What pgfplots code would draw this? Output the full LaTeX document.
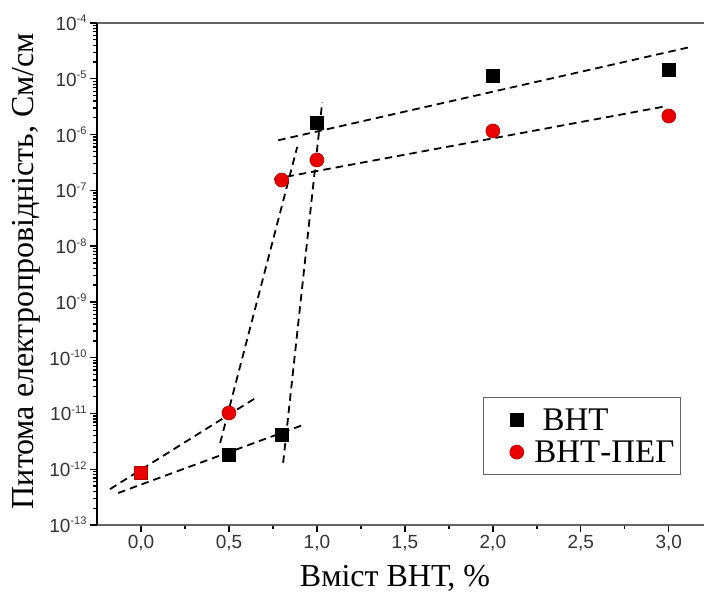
\documentclass[border=0pt]{standalone}
\usepackage{fontspec}
\setmainfont{Liberation Serif}
\setsansfont{Liberation Sans}
\usepackage{pgfplots}
\pgfplotsset{compat=1.18}

\definecolor{ptred}{RGB}{235,0,0}
\definecolor{ptredline}{RGB}{170,0,0}
\definecolor{axgray}{RGB}{100,100,100}

\tikzset{fitline/.style={black, line width=1.8pt, dash pattern=on 7.5pt off 5pt}}

\begin{document}
\begin{tikzpicture}
\begin{axis}[
    scale only axis,
    width=607pt, height=502pt,
    xmin=-0.25, xmax=3.2,
    ymode=log, log basis y=10,
    ymin=1e-13, ymax=1e-4,
    axis x line*=box, axis y line*=left,
    x axis line style={axgray, line width=1.5pt, -},
    y axis line style={black, line width=2pt, -},
    xtick pos=left, ytick pos=left,
    tick align=outside,
    major tick length=7pt, minor tick length=4pt,
    xtick style={black, line width=1.3pt},
    ytick style={black, line width=1.3pt},
    minor tick style={black, line width=1.1pt},
    xtick={0,0.5,1,1.5,2,2.5,3},
    minor x tick num=1,
    ytick={1e-13,1e-12,1e-11,1e-10,1e-9,1e-8,1e-7,1e-6,1e-5,1e-4},
    minor ytick={2e-13,3e-13,4e-13,5e-13,6e-13,7e-13,8e-13,9e-13,
                 2e-12,3e-12,4e-12,5e-12,6e-12,7e-12,8e-12,9e-12,
                 2e-11,3e-11,4e-11,5e-11,6e-11,7e-11,8e-11,9e-11,
                 2e-10,3e-10,4e-10,5e-10,6e-10,7e-10,8e-10,9e-10,
                 2e-9,3e-9,4e-9,5e-9,6e-9,7e-9,8e-9,9e-9,
                 2e-8,3e-8,4e-8,5e-8,6e-8,7e-8,8e-8,9e-8,
                 2e-7,3e-7,4e-7,5e-7,6e-7,7e-7,8e-7,9e-7,
                 2e-6,3e-6,4e-6,5e-6,6e-6,7e-6,8e-6,9e-6,
                 2e-5,3e-5,4e-5,5e-5,6e-5,7e-5,8e-5,9e-5},
    tick label style={font=\sffamily\fontsize{19}{19}\selectfont, black!80},
    xticklabel style={/pgf/number format/.cd, fixed, fixed zerofill, precision=1, use comma, assume math mode=true},
    yticklabel={\pgfmathparse{int(round(\tick))}10\raisebox{0.75ex}{\fontsize{11}{11}\selectfont\pgfmathresult}},
    xlabel={Вміст ВНТ, \%},
    ylabel={Питома електропровідність, См/см},
    label style={font=\fontsize{32}{32}\selectfont},
    xlabel style={at={(axis description cs:0.491,-0.1215)}, anchor=base},
    ylabel style={at={(axis description cs:-0.1038,0.506)}, anchor=base},
    legend style={at={(rel axis cs:0.962,0.255)}, anchor=north east,
        draw=axgray, line width=1pt, font=\fontsize{33}{33}\selectfont,
        row sep=5pt, inner xsep=4pt, inner ysep=9pt,
        nodes={inner xsep=2pt}},
    legend image code/.code={
        \path (0cm,0cm) (1.53cm,0cm);
        \draw[#1] plot coordinates {(1cm,0cm)};},
    legend cell align=left,
]
% fitted trend lines
\addplot[fitline, forget plot] coordinates {(0.78,7.9e-7) (3.12,3.7e-5)};
\addplot[fitline, forget plot] coordinates {(0.757,1.6e-7) (2.99,3.25e-6)};
\addplot[fitline, forget plot] coordinates {(0.808,1.3e-12) (1.03,3.8e-6)};
\addplot[fitline, forget plot] coordinates {(0.45,2.95e-12) (0.888,6.0e-7)};
\addplot[fitline, forget plot] coordinates {(-0.176,4.4e-13) (0.66,1.97e-11)};
\addplot[fitline, forget plot] coordinates {(-0.13,3.75e-13) (0.92,6.2e-12)};

% ВНТ
\addplot[only marks, mark=square*, mark size=6.5pt, mark options={fill=black, draw=black}]
    coordinates {(0.5,1.8e-12) (0.8,4.1e-12) (1.0,1.61e-6) (2.0,1.12e-5) (3.0,1.44e-5)};
\addlegendentry{\ ВНТ}
% ВНТ-ПЕГ
\addplot[only marks, mark=*, mark size=7pt, mark options={fill=ptred, draw=ptredline, line width=0.6pt}]
    coordinates {(0.5,1.02e-11) (0.8,1.53e-7) (1.0,3.5e-7) (2.0,1.16e-6) (3.0,2.15e-6)};
\addlegendentry{ВНТ-ПЕГ}
% shared point at 0 %
\addplot[only marks, forget plot, mark=square*, mark size=6.8pt, mark options={fill=ptred, draw=ptredline, line width=0.6pt}]
    coordinates {(0,8.7e-13)};
\end{axis}
\pgfresetboundingbox
\path (current axis.south west) ++(-97pt,-69pt) rectangle ++(704pt,594pt);
\end{tikzpicture}
\end{document}
